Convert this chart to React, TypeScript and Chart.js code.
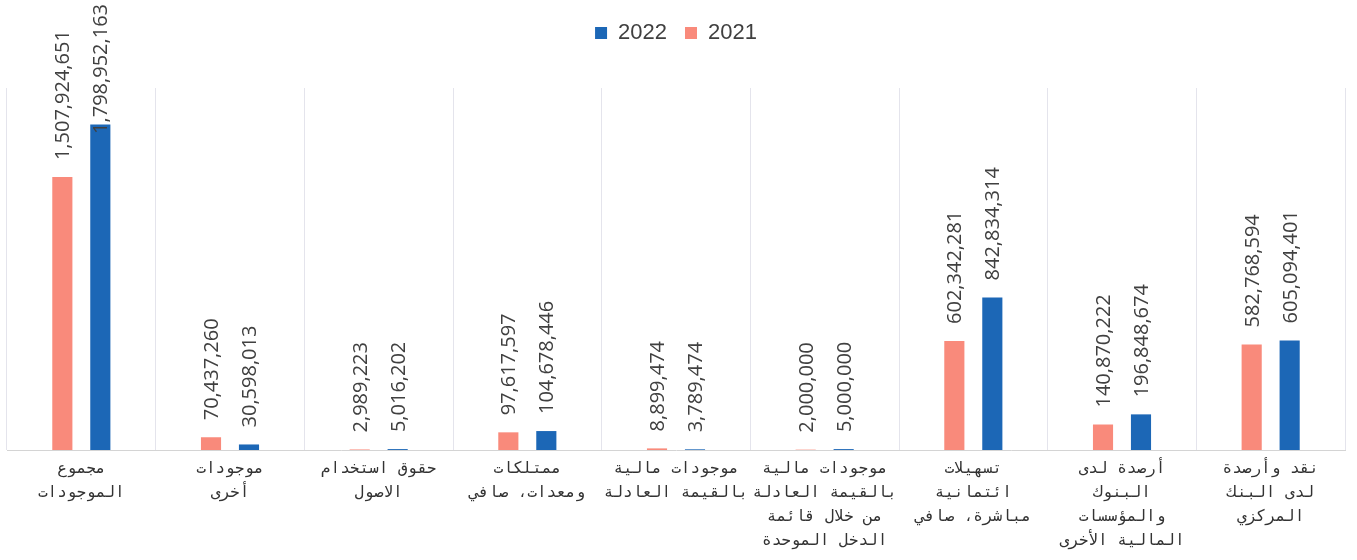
import React, { useEffect, useRef } from 'react';
import { Chart, registerables } from 'chart.js';

Chart.register(...registerables);

const categories: string[][] = [
  ['مجموع', 'الموجودات'],
  ['موجودات', 'أخرى'],
  ['حقوق استخدام', 'الاصول'],
  ['ممتلكات', 'ومعدات، صافي'],
  ['موجودات مالية', 'بالقيمة العادلة'],
  ['موجودات مالية', 'بالقيمة العادلة', 'من خلال قائمة', 'الدخل الموحدة'],
  ['تسهيلات', 'ائتمانية', 'مباشرة، صافي'],
  ['أرصدة لدى', 'البنوك', 'والمؤسسات', 'المالية الأخرى'],
  ['نقد وأرصدة', 'لدى البنك', 'المركزي'],
];

const values2021: number[] = [1507924651, 70437260, 2989223, 97617597, 8899474, 2000000, 602342281, 140870222, 582768594];
const values2022: number[] = [1798952163, 30598013, 5016202, 104678446, 3789474, 5000000, 842834314, 196848674, 605094401];

const seriesNames = ['2021', '2022'];
const seriesColors = ['#F98A7B', '#1C67B6'];
const yMax = 2000000000;

const valueLabels = {
  id: 'valueLabels',
  afterDatasetsDraw(chart: any) {
    const ctx = chart.ctx;
    ctx.save();
    ctx.font = '20px "Open Sans"';
    ctx.fillStyle = '#404040';
    ctx.textAlign = 'left';
    ctx.textBaseline = 'alphabetic';
    chart.data.datasets.forEach((ds: any, di: number) => {
      const meta = chart.getDatasetMeta(di);
      meta.data.forEach((bar: any, i: number) => {
        const text = Number(ds.data[i]).toLocaleString('en-US');
        const w = ctx.measureText(text).width;
        let start = bar.y - 17;
        if (start - w < 4) start = 4 + w;
        ctx.save();
        ctx.translate(bar.x, start);
        ctx.rotate(-Math.PI / 2);
        ctx.fillText(text, 0, 7);
        ctx.restore();
      });
    });
    ctx.restore();
  },
};

const legendSpacer = {
  id: 'legendSpacer',
  afterInit(chart: any) {
    const lg = chart.legend;
    if (!lg || lg.__patched) return;
    const fit = lg.fit;
    lg.fit = function () {
      fit.call(this);
      this.height += 34;
    };
    lg.__patched = true;
  },
};

export default function App() {
  const ref = useRef<HTMLCanvasElement | null>(null);
  useEffect(() => {
    if (!ref.current) return;
    const chart = new Chart(ref.current, {
      type: 'bar',
      data: {
        labels: categories,
        datasets: [
          {
            label: seriesNames[0],
            data: values2021,
            backgroundColor: seriesColors[0],
            categoryPercentage: 0.511,
            barPercentage: 0.53,
          },
          {
            label: seriesNames[1],
            data: values2022,
            backgroundColor: seriesColors[1],
            categoryPercentage: 0.511,
            barPercentage: 0.53,
          },
        ],
      },
      options: {
        responsive: true,
        maintainAspectRatio: false,
        animation: false,
        layout: { padding: { top: 4, left: 7, right: 12, bottom: 0 } },
        plugins: {
          legend: {
            position: 'top',
            reverse: true,
            labels: {
              boxWidth: 12,
              boxHeight: 12,
              padding: 18,
              color: '#404040',
              font: { family: 'Liberation Sans', size: 22 },
            },
          },
          tooltip: { enabled: false },
        },
        scales: {
          x: {
            offset: true,
            grid: { offset: true, drawTicks: false, color: '#e4e4ec', lineWidth: 1 },
            border: { display: true, color: '#d4d4d4', width: 1 },
            ticks: {
              autoSkip: false,
              maxRotation: 0,
              minRotation: 0,
              padding: 7,
              color: '#333333',
              font: { family: '"DejaVu Sans Mono", "DejaVu Sans"', size: 16, lineHeight: 1.5 },
            },
          },
          y: { display: false, min: 0, max: yMax },
        },
      },
      plugins: [valueLabels, legendSpacer],
    } as any);
    return () => chart.destroy();
  }, []);
  return (
    <div style={{ position: 'absolute', left: 0, top: 0, width: 1357, height: 560, background: '#fff' }}>
      <canvas ref={ref} />
    </div>
  );
}
